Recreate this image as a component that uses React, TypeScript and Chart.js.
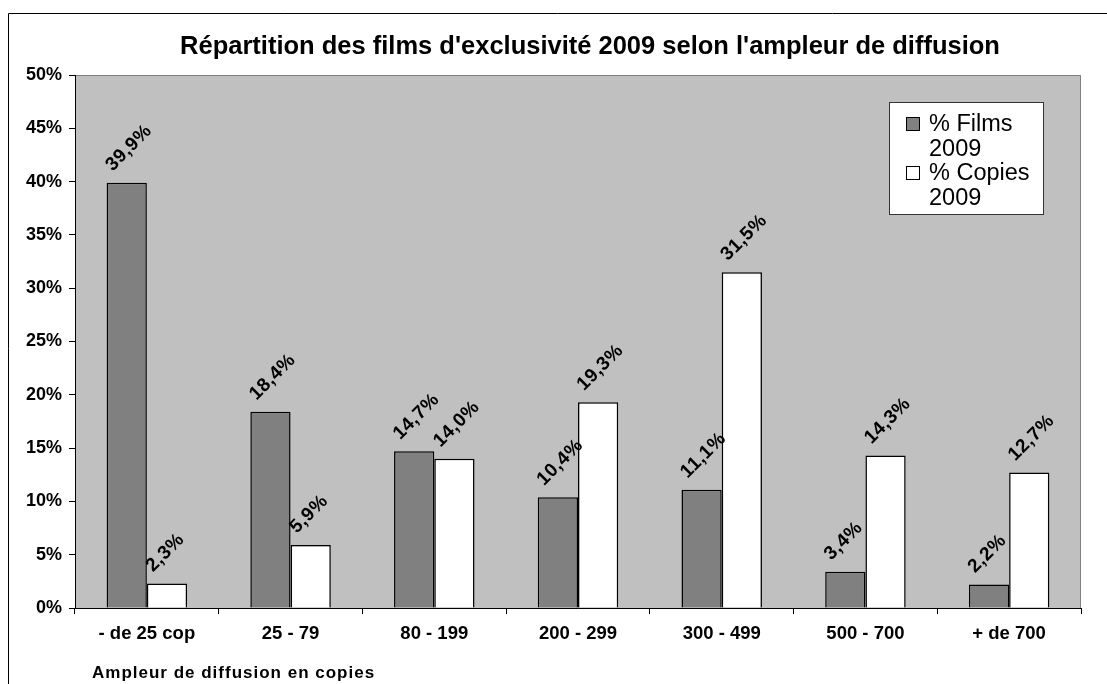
import React, { useEffect, useRef } from "react";
import { Chart, registerables } from "chart.js";

Chart.register(...registerables);

const categories = ["- de 25 cop", "25 - 79", "80 - 199", "200 - 299", "300 - 499", "500 - 700", "+ de 700"];
const filmsValues = [39.9, 18.4, 14.7, 10.4, 11.1, 3.4, 2.2];
const copiesValues = [2.3, 5.9, 14.0, 19.3, 31.5, 14.3, 12.7];
const seriesNames = ["% Films 2009", "% Copies 2009"];
const legendLines = [["% Films", "2009"], ["% Copies", "2009"]];
const titleText = "Répartition des films d'exclusivité 2009 selon l'ampleur de diffusion";
const xAxisTitle = "Ampleur de diffusion en copies";
const yMax = 50;
const yStep = 5;

const FONT = "'Liberation Sans', Arial, sans-serif";

const fmt = (v: number) => v.toFixed(1).replace(".", ",") + "%";

const decorPlugin = {
  id: "decor",
  beforeDraw(chart: any) {
    const { ctx, chartArea: a } = chart;
    ctx.save();
    ctx.strokeStyle = "#000";
    ctx.lineWidth = 1;
    ctx.beginPath();
    ctx.moveTo(8.5, 684);
    ctx.lineTo(8.5, 13.5);
    ctx.lineTo(1107, 13.5);
    ctx.stroke();
    ctx.fillStyle = "#C0C0C0";
    ctx.fillRect(a.left, a.top, a.right - a.left, a.bottom - a.top);
    ctx.strokeStyle = "#808080";
    ctx.strokeRect(a.left + 0.5, a.top + 0.5, a.right - a.left - 1, a.bottom - a.top);
    ctx.fillStyle = "#000";
    ctx.font = `bold 25.5px ${FONT}`;
    ctx.textAlign = "center";
    ctx.textBaseline = "middle";
    ctx.fillText(titleText, 590, 47);
    ctx.restore();
  },
  afterDraw(chart: any) {
    const { ctx } = chart;
    ctx.save();
    ctx.fillStyle = "#000";
    ctx.font = `bold 19px ${FONT}`;
    (ctx as any).letterSpacing = "0.5px";
    ctx.textAlign = "left";
    ctx.textBaseline = "alphabetic";
    chart.data.datasets.forEach((ds: any, di: number) => {
      const meta = chart.getDatasetMeta(di);
      meta.data.forEach((bar: any, i: number) => {
        const x = bar.x - 14;
        const y = bar.y - 11;
        ctx.save();
        ctx.translate(x, y);
        ctx.rotate(-Math.PI / 4);
        ctx.fillText(fmt(ds.data[i]), 0, 0);
        ctx.restore();
      });
    });
    (ctx as any).letterSpacing = "0px";
    ctx.font = `bold 17px ${FONT}`;
    (ctx as any).letterSpacing = "1px";
    ctx.textBaseline = "middle";
    ctx.fillText(xAxisTitle, 92, 673);
    (ctx as any).letterSpacing = "0px";
    const lx = 889, ly = 102, lw = 154, lh = 112;
    ctx.fillStyle = "#fff";
    ctx.fillRect(lx, ly, lw, lh);
    ctx.strokeStyle = "#333";
    ctx.lineWidth = 1;
    ctx.strokeRect(lx + 0.5, ly + 0.5, lw, lh);
    const colors = ["#808080", "#FFFFFF"];
    ctx.font = `23.5px ${FONT}`;
    ctx.textBaseline = "middle";
    legendLines.forEach((lines, k) => {
      const top = 124 + k * 49;
      ctx.fillStyle = colors[k];
      ctx.fillRect(906, top - 7, 14, 14);
      ctx.strokeStyle = "#000";
      ctx.strokeRect(906.5, top - 6.5, 13, 13);
      ctx.fillStyle = "#000";
      lines.forEach((t, j) => ctx.fillText(t, 929, top + 1 + j * 25));
    });
    ctx.restore();
  },
};

export default function App() {
  const ref = useRef<HTMLCanvasElement>(null);
  useEffect(() => {
    if (!ref.current) return;
    const chart = new Chart(ref.current, {
      type: "bar",
      data: {
        labels: categories,
        datasets: [
          {
            label: seriesNames[0],
            data: filmsValues,
            backgroundColor: "#808080",
            borderColor: "#000",
            borderWidth: 1.5,
            categoryPercentage: 0.56,
            barPercentage: 1,
          },
          {
            label: seriesNames[1],
            data: copiesValues,
            backgroundColor: "#FFFFFF",
            borderColor: "#000",
            borderWidth: 1.5,
            categoryPercentage: 0.56,
            barPercentage: 1,
          },
        ],
      },
      options: {
        responsive: false,
        animation: false,
        layout: { padding: { top: 75, right: 26, left: 0, bottom: 0 } },
        plugins: { legend: { display: false }, title: { display: false }, tooltip: { enabled: false } },
        scales: {
          x: {
            grid: { display: true, drawOnChartArea: false, drawTicks: true, tickLength: 6, color: "#000", offset: true },
            border: { display: true, color: "#000", width: 1 },
            ticks: { color: "#000", font: { family: FONT, size: 18.5, weight: "bold" }, padding: 9, autoSkip: false, maxRotation: 0 },
            afterFit: (s: any) => { s.height = 76; },
          },
          y: {
            min: 0,
            max: yMax,
            grid: { display: true, drawOnChartArea: false, drawTicks: true, tickLength: 6, color: "#000" },
            border: { display: true, color: "#000", width: 1 },
            ticks: { stepSize: yStep, color: "#000", font: { family: FONT, size: 18, weight: "bold" }, padding: 7, callback: (v: any) => v + "%" },
            afterFit: (s: any) => { s.width = 75; },
          },
        },
      },
      plugins: [decorPlugin],
    });
    return () => chart.destroy();
  }, []);
  return (
    <div style={{ position: "absolute", left: 0, top: 0, width: 1107, height: 684, background: "#fff" }}>
      <canvas ref={ref} width={1107} height={684} style={{ display: "block", width: 1107, height: 684 }} />
    </div>
  );
}
